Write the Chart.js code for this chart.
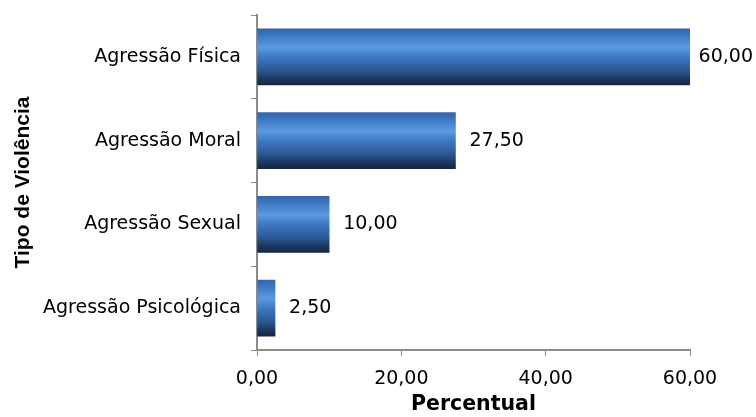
<!DOCTYPE html>
<html><head><meta charset="utf-8">
<script src="https://cdn.jsdelivr.net/npm/chart.js@4"></script>
<style>html,body{margin:0;padding:0;background:#fff}#wrap{width:756px;height:417px}</style>
</head><body><div id="wrap"><canvas id="c" width="756" height="417"></canvas></div>
<script>
const categories = ["Agressão Física", "Agressão Moral", "Agressão Sexual", "Agressão Psicológica"];
const values = [60.00, 27.50, 10.00, 2.50];
const xTicks = [0, 20, 40, 60];
const fmt = v => v.toFixed(2).replace('.', ',');
const FONT = "'DejaVu Sans', Verdana, sans-serif";

function barGradient(ctx) {
  const chart = ctx.chart;
  const y = chart.scales && chart.scales.y;
  if (!chart.chartArea || !y || ctx.dataIndex === undefined) return '#3f7ac8';
  const c = y.getPixelForValue(ctx.dataIndex);
  const h = 56;
  const top = c - h / 2, bot = c + h / 2;
  const g = chart.ctx.createLinearGradient(0, top, 0, bot);
  g.addColorStop(0, '#3566a8');
  g.addColorStop(0.1, '#3b74bf');
  g.addColorStop(0.33, '#5b9be3');
  g.addColorStop(0.5, '#3e79c4');
  g.addColorStop(0.75, '#2b5692');
  g.addColorStop(0.9, '#1b355c');
  g.addColorStop(1, '#142844');
  return g;
}

const labelPlugin = {
  id: 'vals',
  afterDatasetsDraw(chart) {
    const ctx = chart.ctx;
    const meta = chart.getDatasetMeta(0);
    ctx.save();
    ctx.font = "19px " + FONT;
    ctx.fillStyle = '#000';
    ctx.textBaseline = 'middle';
    ctx.textAlign = 'left';
    meta.data.forEach((el, i) => {
      const t = fmt(values[i]);
      const w = ctx.measureText(t).width;
      ctx.fillText(t, Math.min(el.x + 14, chart.width - 3 - w), el.y);
    });
    ctx.restore();
  }
};

new Chart(document.getElementById('c'), {
  type: 'bar',
  data: {
    labels: categories,
    datasets: [{ data: values, backgroundColor: barGradient, barThickness: 56, borderWidth: 0 }]
  },
  options: {
    indexAxis: 'y',
    responsive: false,
    animation: false,
    events: [],
    layout: { padding: { top: 15, right: 66, left: 0, bottom: 0 } },
    plugins: { legend: { display: false }, tooltip: { enabled: false } },
    scales: {
      x: {
        min: 0, max: 60,
        afterBuildTicks: s => { s.ticks = xTicks.map(v => ({ value: v })); },
        afterFit: s => { s.height = 67; s.paddingLeft = 0; s.paddingRight = 0; },
        grid: { drawOnChartArea: false, drawTicks: true, tickLength: 6, color: '#8c8c8c', lineWidth: 1 },
        border: { color: '#8c8c8c', width: 2 },
        ticks: { font: { family: FONT, size: 19 }, color: '#000', padding: 12, callback: v => fmt(v), maxRotation: 0 },
        title: { display: true, text: 'Percentual', font: { family: FONT, size: 20.5, weight: 'bold' }, color: '#000', padding: { top: 0, bottom: 0 } }
      },
      y: {
        offset: true,
        afterFit: s => { s.width = 257; s.paddingTop = 0; s.paddingBottom = 0; },
        grid: { drawOnChartArea: false, drawTicks: true, tickLength: 6, offset: true, color: '#8c8c8c', lineWidth: 1 },
        border: { color: '#8c8c8c', width: 2 },
        ticks: { font: { family: FONT, size: 19 }, color: '#000', padding: 10 },
        title: { display: true, text: 'Tipo de Violência', font: { family: "'Liberation Sans', Arial, sans-serif", size: 21, weight: 'bold' }, color: '#000', padding: { top: 11, bottom: 0 } }
      }
    }
  },
  plugins: [labelPlugin]
});
</script></body></html>
